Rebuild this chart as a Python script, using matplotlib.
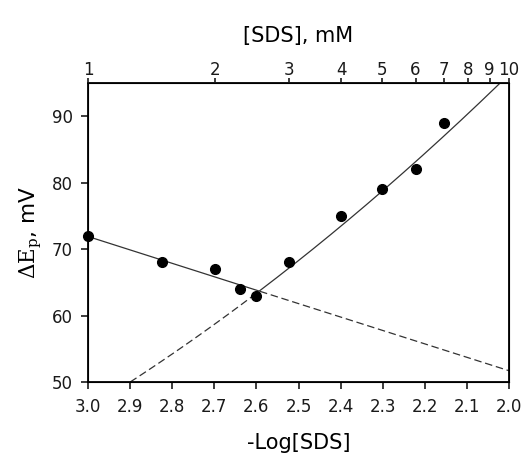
import numpy as np
import matplotlib
matplotlib.use("Agg")
from matplotlib import pyplot as plt

plt.rcParams['font.family'] = ['DejaVu Sans']
plt.rcParams['mathtext.fontset'] = 'dejavuserif'

# measured points
conc_mM = np.array([1.0, 1.5, 2.0, 2.3, 2.5, 3.0, 4.0, 5.0, 6.0, 7.0])
dEp = np.array([72, 68, 67, 64, 63, 68, 75, 79, 82, 89])

# fit lines
left_x = np.array([3.0, 2.0])
left_y = np.array([71.9, 51.7])
right_x = np.array([2.90, 2.727, 2.596, 2.299, 2.025])
right_y = np.array([50.0, 57.3, 63.8, 78.7, 94.8])

top_ticks = [1, 2, 3, 4, 5, 6, 7, 8, 9, 10]
bottom_ticks = [3.0, 2.9, 2.8, 2.7, 2.6, 2.5, 2.4, 2.3, 2.2, 2.1, 2.0]

neglog = -np.log10(conc_mM * 1e-3)

fig = plt.figure(figsize=(5.28, 4.55), dpi=100)
ax = fig.add_axes([0.1667, 0.1604, 0.7973, 0.6572])

xs = np.linspace(3.0, 2.0, 400)
pl = np.polyfit(left_x, left_y, 1)
pr = np.polyfit(right_x, right_y, 2)
yl = np.polyval(pl, xs)
yr = np.polyval(pr, xs)
cross = xs[np.argmin(np.abs(yl - yr))]

dash = (0, (6, 3))
lc = '#333333'
m = xs >= cross
ax.plot(xs[m], yl[m], color=lc, lw=0.9)
ax.plot(xs[~m], yl[~m], color=lc, lw=0.9, linestyle=dash)
mr = (xs <= 2.90) & (xs >= cross)
ax.plot(xs[mr], yr[mr], color=lc, lw=0.9, linestyle=dash)
ax.plot(xs[xs <= cross], yr[xs <= cross], color=lc, lw=0.9)

ax.plot(neglog, dEp, 'o', color='black', markersize=7, clip_on=False, zorder=5)

ax.set_xlim(3.0, 2.0)
ax.set_ylim(50, 95)
ax.set_xticks(bottom_ticks)
ax.set_xticklabels(['%.1f' % t for t in bottom_ticks])
ax.set_yticks([50, 60, 70, 80, 90])
ax.tick_params(axis='both', direction='out', length=4.8, width=1.2, labelsize=12,
               colors='#1a1a1a')
ax.tick_params(axis='x', pad=7)
ax.tick_params(axis='y', pad=6)
for s in ax.spines.values():
    s.set_linewidth(1.3)

ax.set_xlabel('-Log[SDS]', fontsize=15, labelpad=12)
ax.set_ylabel(r'$\Delta\mathrm{E}_\mathrm{p}$, mV', fontsize=15.5, labelpad=6)

ax2 = ax.twiny()
ax2.set_xlim(3.0, 2.0)
ax2.set_xticks([3 - np.log10(c) for c in top_ticks])
ax2.set_xticklabels([str(c) for c in top_ticks])
ax2.tick_params(axis='x', direction='out', length=3.8, width=1.2, labelsize=12, pad=-1,
                colors='#1a1a1a')
ax2.set_xlabel('[SDS], mM', fontsize=15, labelpad=14)

fig.savefig('out.png', dpi=100)
